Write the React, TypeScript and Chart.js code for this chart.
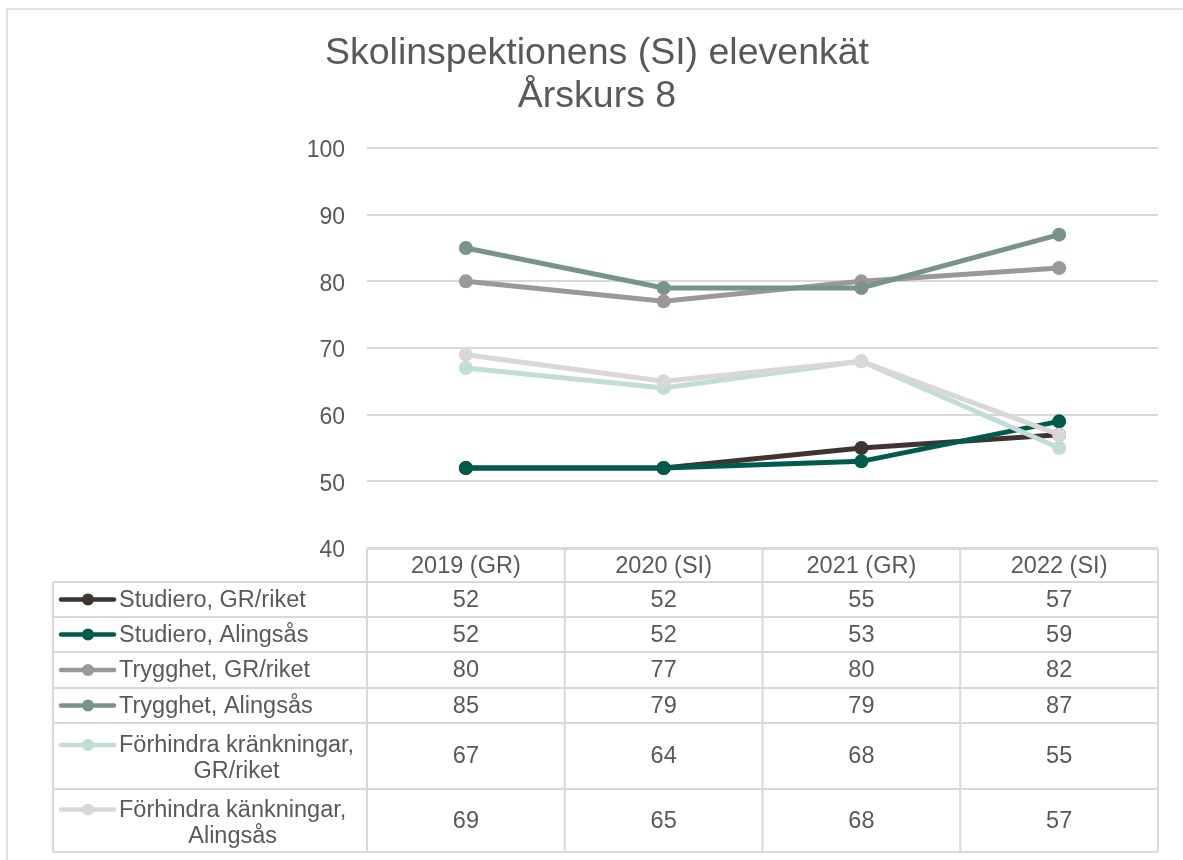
import React, { useEffect, useRef } from "react";
import { Chart, registerables } from "chart.js";

Chart.register(...registerables);

const titleLines = ["Skolinspektionens (SI) elevenkät", "Årskurs 8"];
const categories = ["2019 (GR)", "2020 (SI)", "2021 (GR)", "2022 (SI)"];
const seriesLabels = [
  ["Studiero, GR/riket"],
  ["Studiero, Alingsås"],
  ["Trygghet, GR/riket"],
  ["Trygghet, Alingsås"],
  ["Förhindra kränkningar,", "GR/riket"],
  ["Förhindra känkningar,", "Alingsås"],
];
const studieroRiket = [52, 52, 55, 57];
const studieroAlingsas = [52, 52, 53, 59];
const trygghetRiket = [80, 77, 80, 82];
const trygghetAlingsas = [85, 79, 79, 87];
const forhindraRiket = [67, 64, 68, 55];
const forhindraAlingsas = [69, 65, 68, 57];
const seriesValues = [
  studieroRiket,
  studieroAlingsas,
  trygghetRiket,
  trygghetAlingsas,
  forhindraRiket,
  forhindraAlingsas,
];
const seriesColors = ["#3E3533", "#005B4C", "#9C9898", "#789488", "#C2DCD8", "#D9D7D8"];
const yMin = 40;
const yMax = 100;
const yStep = 10;

const TEXT = "#595959";
const GRID = "#D9D9D9";
const FONT = "'Liberation Sans', Arial, sans-serif";

const W = 1183;
const H = 860;

const tablePlugin = {
  id: "tableAndTitle",
  afterDraw(chart: any) {
    const ctx = chart.ctx as CanvasRenderingContext2D;
    const area = chart.chartArea;
    const xs = chart.scales.x;
    ctx.save();
    // outer frame
    ctx.strokeStyle = GRID;
    ctx.lineWidth = 1.5;
    ctx.strokeRect(7, 9, W + 20, H + 20);

    // title
    ctx.fillStyle = TEXT;
    ctx.font = `37.5px ${FONT}`;
    ctx.textAlign = "center";
    ctx.textBaseline = "middle";
    ctx.fillText(titleLines[0], 597, 54);
    ctx.fillText(titleLines[1], 597, 97);

    // table
    const left = area.left;
    const right = area.right;
    const colW = (right - left) / categories.length;
    const legendLeft = 53;
    const headTop = area.bottom + 1;
    const rowBounds = [582, 617, 652, 688, 723, 789, 852];

    ctx.strokeStyle = GRID;
    ctx.lineWidth = 2;
    ctx.beginPath();
    ctx.moveTo(left, headTop);
    ctx.lineTo(right, headTop);
    rowBounds.forEach((y) => {
      ctx.moveTo(legendLeft, y);
      ctx.lineTo(right, y);
    });
    for (let i = 0; i <= categories.length; i++) {
      const x = left + i * colW;
      ctx.moveTo(x, headTop);
      ctx.lineTo(x, rowBounds[rowBounds.length - 1]);
    }
    ctx.moveTo(legendLeft, rowBounds[0]);
    ctx.lineTo(legendLeft, rowBounds[rowBounds.length - 1]);
    ctx.stroke();

    ctx.fillStyle = TEXT;
    ctx.font = `23.5px ${FONT}`;
    ctx.textAlign = "center";
    ctx.textBaseline = "middle";
    categories.forEach((c, i) => {
      const cx = xs.getPixelForValue(i);
      ctx.fillText(c, cx, (headTop + rowBounds[0]) / 2 + 1);
    });

    seriesValues.forEach((vals, r) => {
      const top = rowBounds[r];
      const bottom = rowBounds[r + 1];
      const mid = (top + bottom) / 2;
      vals.forEach((v, i) => {
        const cx = xs.getPixelForValue(i);
        ctx.fillStyle = TEXT;
        ctx.textAlign = "center";
        ctx.fillText(String(v), cx, mid + 1);
      });
      const lines = seriesLabels[r];
      const lineGap = 26;
      const firstY = mid - ((lines.length - 1) * lineGap) / 2 + (lines.length > 1 ? 2 : 0);
      ctx.strokeStyle = seriesColors[r];
      ctx.lineWidth = 4.5;
      ctx.lineCap = "round";
      ctx.beginPath();
      ctx.moveTo(61, firstY);
      ctx.lineTo(114, firstY);
      ctx.stroke();
      ctx.fillStyle = seriesColors[r];
      ctx.beginPath();
      ctx.arc(88, firstY, 6, 0, Math.PI * 2);
      ctx.fill();
      ctx.fillStyle = TEXT;
      const textLeft = 119;
      const widths = lines.map((l) => ctx.measureText(l).width);
      const maxW = Math.max(...widths);
      lines.forEach((l, k) => {
        ctx.textAlign = "center";
        ctx.fillText(l, textLeft + maxW / 2, firstY + k * lineGap + 1);
      });
    });
    ctx.restore();
  },
};

export default function App() {
  const ref = useRef<HTMLCanvasElement>(null);
  useEffect(() => {
    if (!ref.current) return;
    const n = seriesValues.length;
    const chart = new Chart(ref.current, {
      type: "line",
      data: {
        labels: categories,
        datasets: seriesValues.map((vals, i) => ({
          label: seriesLabels[i].join(" "),
          data: vals,
          borderColor: seriesColors[i],
          backgroundColor: seriesColors[i],
          pointBackgroundColor: seriesColors[i],
          pointBorderColor: seriesColors[i],
          borderWidth: 5,
          pointRadius: 7,
          pointBorderWidth: 0,
          tension: 0,
          fill: false,
          order: n - 1 - i,
        })),
      },
      options: {
        responsive: false,
        animation: false,
        layout: { padding: { top: 148, bottom: H - 548, left: 0, right: W - 1158 } },
        plugins: {
          legend: { display: false },
          title: { display: false },
          tooltip: { enabled: false },
        },
        scales: {
          x: { display: false, offset: true },
          y: {
            min: yMin,
            max: yMax,
            ticks: {
              stepSize: yStep,
              color: TEXT,
              font: { family: FONT, size: 23 },
              padding: 22,
              labelOffset: 3,
            },
            grid: { color: GRID, lineWidth: 2, drawTicks: false },
            border: { display: false },
            afterFit(scale: any) {
              scale.width = 367;
              scale.paddingTop = 0;
              scale.paddingBottom = 0;
            },
          },
        },
      },
      plugins: [tablePlugin],
    });
    return () => chart.destroy();
  }, []);
  return (
    <div style={{ position: "absolute", left: 0, top: 0, width: W, height: H, background: "#fff" }}>
      <canvas ref={ref} width={W} height={H} style={{ display: "block", width: W, height: H }} />
    </div>
  );
}
